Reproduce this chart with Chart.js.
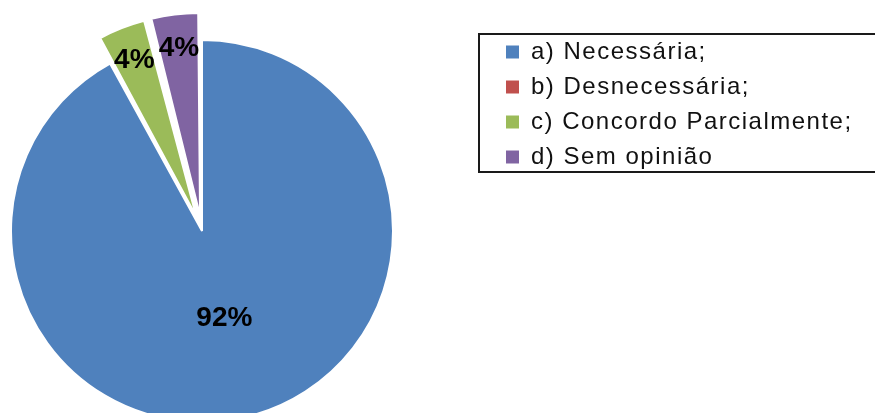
<!DOCTYPE html>
<html>
<head>
<meta charset="utf-8">
<script src="https://cdn.jsdelivr.net/npm/chart.js@4.4.0/dist/chart.umd.min.js"></script>
<style>
  html, body { margin: 0; padding: 0; background: #fff; overflow: hidden; }
  canvas { display: block; }
</style>
</head>
<body>
<canvas id="grafico" width="875" height="413"></canvas>
<script>
// dados do gráfico
const categorias = ["a) Necessária;", "b) Desnecessária;", "c) Concordo Parcialmente;", "d) Sem opinião"];
const percentuais = [92, 0, 4, 4];
const cores = ["#4F81BD", "#C0504D", "#9BBB59", "#8064A2"];
const destaque = [0, 0, 62, 62];

const fonte = "'Liberation Sans', Arial, sans-serif";

// rótulos de percentagem sobre as fatias
const rotulos = {
  id: "rotulos",
  afterDatasetsDraw(chart) {
    const ctx = chart.ctx;
    const arcs = chart.getDatasetMeta(0).data;
    ctx.save();
    ctx.font = "bold 28px " + fonte;
    ctx.fillStyle = "#000";
    ctx.textAlign = "center";
    ctx.textBaseline = "middle";
    arcs.forEach((arc, i) => {
      const valor = percentuais[i];
      if (!valor) return;
      const p = arc.getProps(["x", "y", "startAngle", "endAngle", "outerRadius", "circumference"], true);
      const meio = (p.startAngle + p.endAngle) / 2;
      const off = (arc.options.offset || 0) / 4;
      const desloc = off * (2 - Math.sin(Math.min(Math.PI, p.circumference)));
      const r = off ? p.outerRadius * 0.82 : p.outerRadius * 0.47;
      ctx.fillText(valor + "%", p.x + Math.cos(meio) * (desloc + r), p.y + Math.sin(meio) * (desloc + r));
    });
    ctx.restore();
  }
};

// legenda à direita, com moldura
const legenda = {
  id: "legenda",
  afterLayout(chart) {
    const l = chart.legend;
    l.left = 495; l.top = 29; l.right = 875; l.bottom = 200;
    l.width = 380; l.height = 171;
  },
  beforeDraw(chart) { chart.ctx.letterSpacing = "1.5px"; },
  beforeDatasetsDraw(chart) { chart.ctx.letterSpacing = "0px"; },
  afterDraw(chart) {
    const ctx = chart.ctx;
    ctx.save();
    ctx.strokeStyle = "#1a1a1a";
    ctx.lineWidth = 2;
    ctx.strokeRect(479, 34, 410, 138);
    ctx.restore();
  }
};

new Chart(document.getElementById("grafico"), {
  type: "pie",
  data: {
    labels: categorias,
    datasets: [{
      data: percentuais,
      backgroundColor: cores,
      borderColor: "#fff",
      borderWidth: 2,
      offset: destaque
    }]
  },
  options: {
    responsive: false,
    animation: false,
    radius: 191,
    layout: { padding: { top: 49, left: 0, right: 471, bottom: 0 } },
    plugins: {
      tooltip: { enabled: false },
      legend: {
        position: "chartArea",
        align: "start",
        labels: {
          boxWidth: 13,
          boxHeight: 13,
          padding: 11,
          color: "#111",
          font: { family: fonte, size: 24 },
          generateLabels(chart) {
            return Chart.overrides.doughnut.plugins.legend.labels.generateLabels(chart)
              .map(it => Object.assign(it, { lineWidth: 0, strokeStyle: it.fillStyle }));
          }
        }
      }
    }
  },
  plugins: [rotulos, legenda]
});
</script>
</body>
</html>
